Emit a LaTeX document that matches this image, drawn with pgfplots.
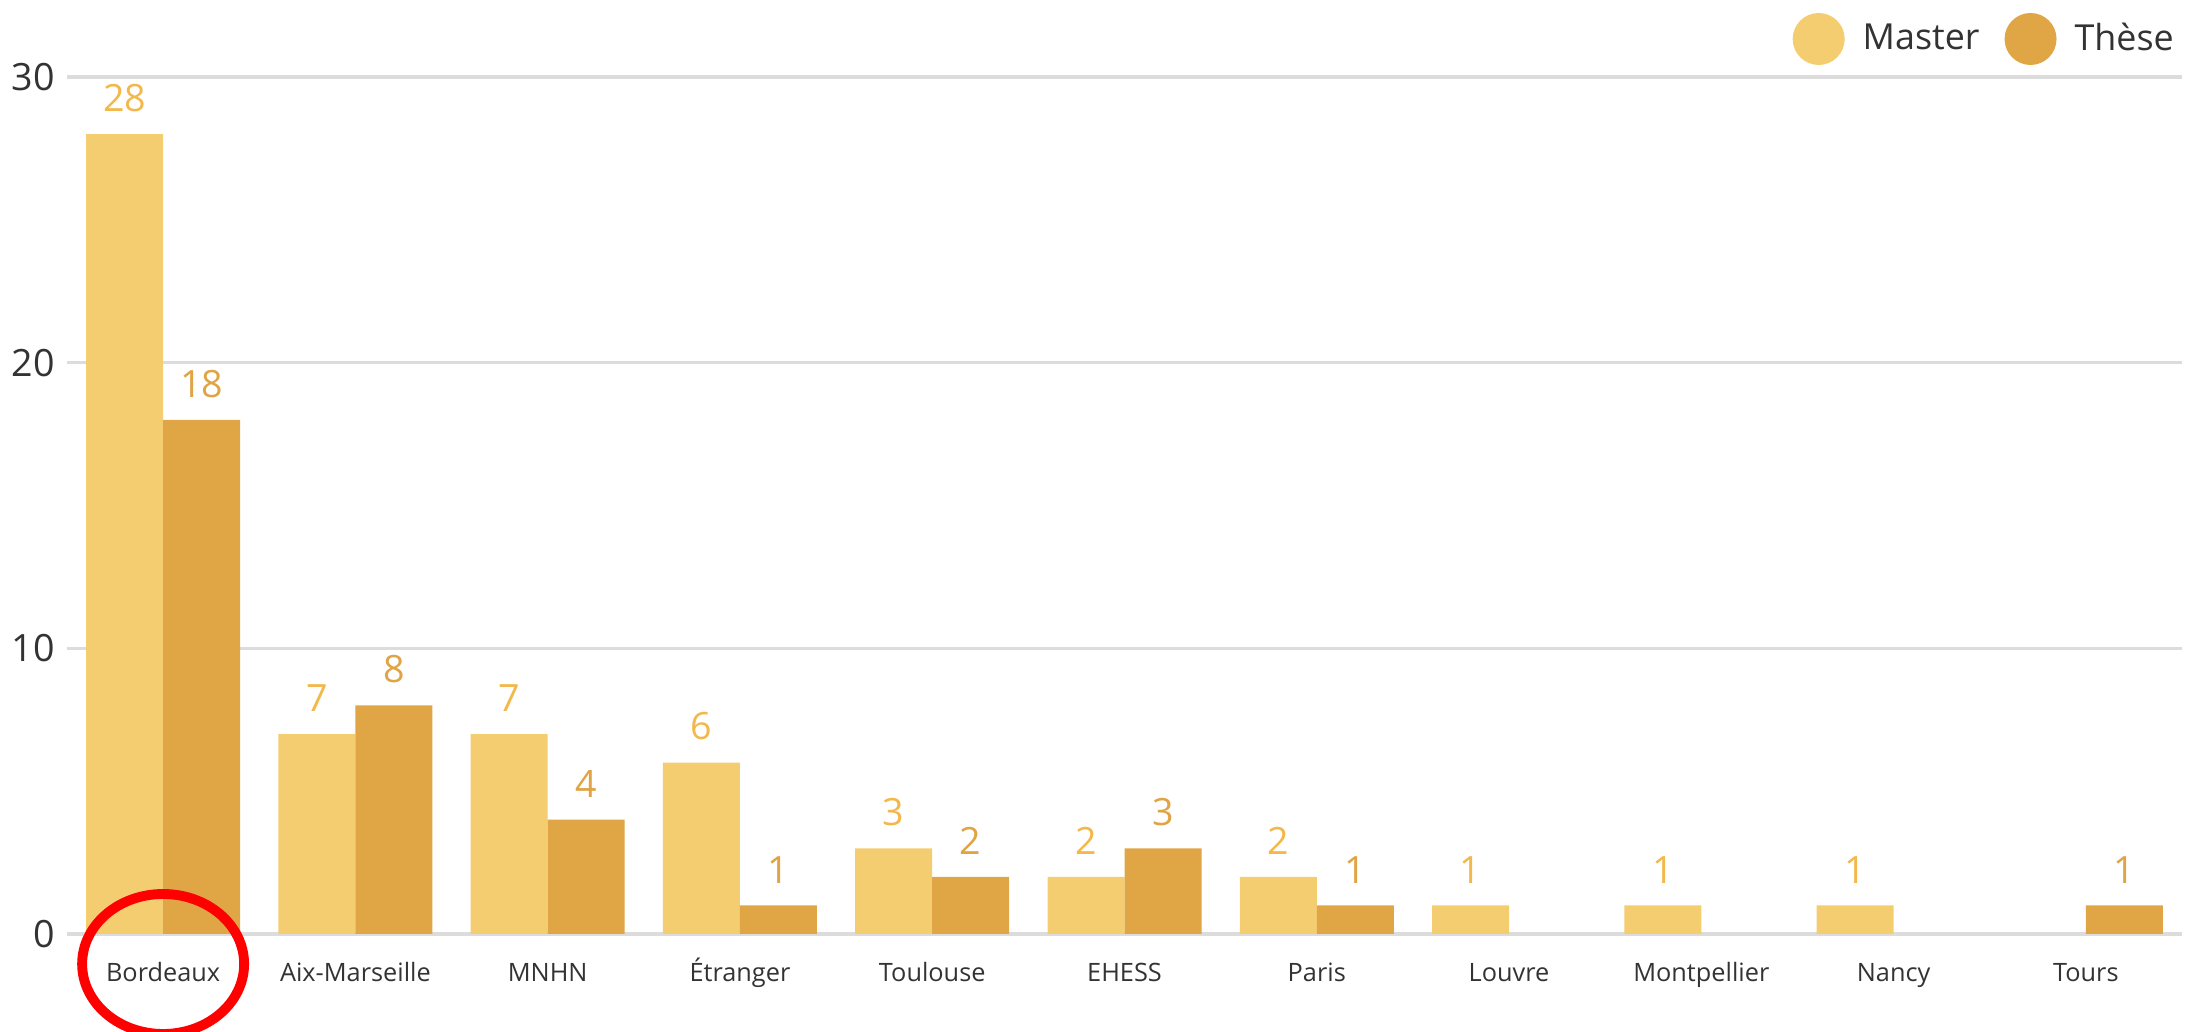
\documentclass[border=0pt]{standalone}
\usepackage{fontspec}
\setmainfont{Open Sans}
\usepackage{pgfplots}
\pgfplotsset{compat=1.18}

\definecolor{master}{HTML}{F4CD70}
\definecolor{these}{HTML}{E0A645}
\definecolor{masterlbl}{HTML}{F3B84C}
\definecolor{theselbl}{HTML}{E0A445}
\definecolor{gridc}{HTML}{DCDCDC}
\definecolor{txt}{HTML}{333333}

\begin{document}
\begin{tikzpicture}
\begin{axis}[
  scale only axis,
  width=21.15cm, height=8.57cm,
  ybar=0pt, bar width=7.7mm,
  xmin=-0.5, xmax=10.5,
  ymin=0, ymax=30,
  xtick={0,1,...,10},
  xticklabels={Bordeaux,Aix-Marseille,MNHN,Étranger,Toulouse,EHESS,Paris,Louvre,Montpellier,Nancy,Tours},
  x tick label style={font=\fontsize{7.2}{9}\selectfont, text=txt, anchor=base, yshift=-4.8mm},
  ytick={0,10,20,30},
  y tick label style={font=\fontsize{10.7}{12}\selectfont, text=txt},
  /pgf/number format/assume math mode=true,
  axis line style={draw=none},
  major tick length=0pt,
  ymajorgrids,
  grid style={gridc, line width=0.9pt},
  clip=false,
  nodes near coords,
  every node near coord/.append style={font=\fontsize{10.7}{12}\selectfont, yshift=1mm},
  legend columns=2,
  legend style={draw=none, fill=none, at={(1,1)}, anchor=east, yshift=3.8mm, xshift=1.0mm,
    font=\fontsize{10.2}{12}\selectfont, text=txt,
    /tikz/every even column/.append style={column sep=1.8mm}},
  legend image code/.code={\fill[#1] (0cm,0cm) circle (2.6mm); \path (3.7mm,0);},
]
% Master
\addplot[fill=master, draw=none, every node near coord/.append style={text=masterlbl}] coordinates {
  (0,28) (1,7) (2,7) (3,6) (4,3) (5,2) (6,2) (7,1) (8,1) (9,1)
};
% These
\addplot[fill=these, draw=none, every node near coord/.append style={text=theselbl}] coordinates {
  (0,18) (1,8) (2,4) (3,1) (4,2) (5,3) (6,1) (10,1)
};
\legend{Master, Thèse}
\draw[red, line width=2.8pt] ([yshift=-3mm]axis cs:0,0) ellipse [x radius=8.1mm, y radius=7mm];
\end{axis}
\pgfresetboundingbox
\path[use as bounding box] ([shift={(-6.7mm,-9.8mm)}]current axis.south west) rectangle ([shift={(1.8mm,7.7mm)}]current axis.north east);
\end{tikzpicture}
\end{document}
